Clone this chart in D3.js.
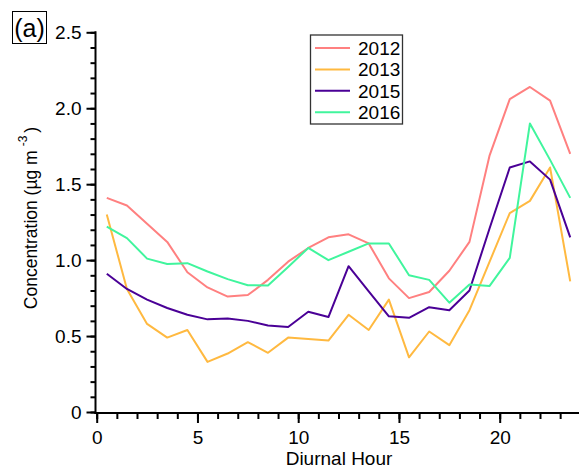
<!DOCTYPE html>
<html>
<head>
<meta charset="utf-8">
<script src="https://cdn.jsdelivr.net/npm/d3@7"></script>
<style>
  html, body { margin: 0; padding: 0; background: #fff; }
  svg { display: block; font-family: "Liberation Sans", Arial, sans-serif; }
</style>
</head>
<body>
<svg id="chart" width="579" height="469"></svg>
<script>
// Hourly mean concentrations (hour-of-day midpoints)
const hours = [0.5, 1.5, 2.5, 3.5, 4.5, 5.5, 6.5, 7.5, 8.5, 9.5, 10.5, 11.5,
               12.5, 13.5, 14.5, 15.5, 16.5, 17.5, 18.5, 19.5, 20.5, 21.5, 22.5, 23.5];

const years = ["2012", "2013", "2015", "2016"];

const values2012 = [1.41, 1.36, 1.24, 1.12, 0.92, 0.82, 0.76, 0.77, 0.87, 0.99, 1.08, 1.15,
                    1.17, 1.11, 0.88, 0.75, 0.79, 0.93, 1.12, 1.69, 2.06, 2.14, 2.05, 1.70];
const values2013 = [1.30, 0.81, 0.58, 0.49, 0.54, 0.33, 0.385, 0.46, 0.39, 0.49, 0.48, 0.47,
                    0.64, 0.54, 0.74, 0.36, 0.53, 0.44, 0.67, 0.99, 1.31, 1.39, 1.61, 0.86];
const values2015 = [0.91, 0.81, 0.74, 0.685, 0.64, 0.61, 0.615, 0.60, 0.57, 0.56, 0.66, 0.625,
                    0.96, 0.795, 0.63, 0.62, 0.69, 0.67, 0.80, 1.21, 1.61, 1.65, 1.53, 1.15];
const values2016 = [1.22, 1.145, 1.01, 0.975, 0.98, 0.925, 0.875, 0.835, 0.833, 0.955, 1.08, 1.0,
                    1.055, 1.11, 1.11, 0.90, 0.87, 0.72, 0.84, 0.83, 1.015, 1.90, 1.66, 1.41];

const yTicks = [0, 0.5, 1.0, 1.5, 2.0, 2.5];
const yTickLabels = ["0", "0.5", "1.0", "1.5", "2.0", "2.5"];
const xTicks = [0, 5, 10, 15, 20];

const seriesValues = [values2012, values2013, values2015, values2016];
const colors = ["#ff8080", "#ffb940", "#4a0096", "#40f59d"];

const svg = d3.select("#chart");

const x = d3.scaleLinear().domain([0, 24]).range([96.7, 580.3]);
const y = d3.scaleLinear().domain([0, 2.5]).range([412, 32.3]);

// Data lines
const line = d3.line()
  .x((d, i) => x(hours[i]))
  .y(d => y(d));

svg.append("g")
  .selectAll("path")
  .data(seriesValues)
  .join("path")
  .attr("d", d => line(d))
  .attr("fill", "none")
  .attr("stroke", (d, i) => colors[i])
  .attr("stroke-width", 2)
  .attr("stroke-linejoin", "round");

// Y axis: minor ticks every 0.1, labelled majors every 0.5
const yAxisG = svg.append("g").attr("transform", "translate(95.5,0)");
yAxisG.append("g")
  .call(d3.axisLeft(y).tickValues(d3.range(0, 2.501, 0.1)).tickSize(5).tickFormat(""))
  .call(g => g.select(".domain").remove());
yAxisG.append("g")
  .call(d3.axisLeft(y).tickValues(yTicks).tickSize(9).tickPadding(5)
    .tickFormat((d, i) => yTickLabels[i]))
  .call(g => g.select(".domain").remove())
  .call(g => g.selectAll("text").attr("font-size", 19).attr("fill", "#000")
    .attr("font-family", "Liberation Sans, Arial, sans-serif"));
yAxisG.append("line")
  .attr("x1", 0).attr("x2", 0)
  .attr("y1", y(2.5) - 1).attr("y2", 414)
  .attr("stroke", "#000").attr("stroke-width", 2);
yAxisG.selectAll(".tick line").attr("stroke", "#000").attr("stroke-width", 2);

// X axis: minor ticks every hour, labelled majors every 5 h
const xAxisG = svg.append("g").attr("transform", "translate(0,413)");
xAxisG.append("g")
  .call(d3.axisBottom(x).tickValues(d3.range(0, 24, 1)).tickSize(6).tickFormat(""))
  .call(g => g.select(".domain").remove());
xAxisG.append("g")
  .call(d3.axisBottom(x).tickValues(xTicks).tickSize(10).tickPadding(8).tickFormat(d3.format("d")))
  .call(g => g.select(".domain").remove())
  .call(g => g.selectAll("text").attr("font-size", 19).attr("fill", "#000")
    .attr("font-family", "Liberation Sans, Arial, sans-serif"));
xAxisG.append("line")
  .attr("x1", 94.5).attr("x2", 579)
  .attr("y1", 0).attr("y2", 0)
  .attr("stroke", "#000").attr("stroke-width", 2);
xAxisG.selectAll(".tick line").attr("stroke", "#000").attr("stroke-width", 2);

// Axis titles
svg.append("text")
  .attr("x", 339).attr("y", 465)
  .attr("text-anchor", "middle")
  .attr("font-size", 19)
  .text("Diurnal Hour");

const yTitle = svg.append("text")
  .attr("transform", "translate(37,218) rotate(-90)")
  .attr("text-anchor", "middle")
  .attr("font-size", 17.5);
yTitle.append("tspan").text("Concentration (µg m");
yTitle.append("tspan").attr("font-size", 12).attr("dx", 4).attr("dy", -10).text("-3");
yTitle.append("tspan").attr("dx", 3).attr("dy", 10).text(")");

// Panel tag
svg.append("rect")
  .attr("x", 12.5).attr("y", 11.5).attr("width", 34).attr("height", 32)
  .attr("fill", "none").attr("stroke", "#000").attr("stroke-width", 1);
svg.append("text")
  .attr("x", 29.5).attr("y", 36.5)
  .attr("text-anchor", "middle")
  .attr("font-size", 25)
  .text("(a)");

// Legend
const legend = svg.append("g");
legend.append("rect")
  .attr("x", 310.5).attr("y", 35).attr("width", 92).attr("height", 89)
  .attr("fill", "#fff").attr("stroke", "#333").attr("stroke-width", 1.3);
const rows = legend.selectAll("g.row")
  .data(years)
  .join("g")
  .attr("class", "row")
  .attr("transform", (d, i) => `translate(0,${48 + i * 21.4})`);
rows.append("line")
  .attr("x1", 315).attr("x2", 350)
  .attr("y1", 0).attr("y2", 0)
  .attr("stroke", (d, i) => colors[i])
  .attr("stroke-width", 2);
rows.append("text")
  .attr("x", 358).attr("y", 7)
  .attr("font-size", 19)
  .text(d => d);
</script>
</body>
</html>
